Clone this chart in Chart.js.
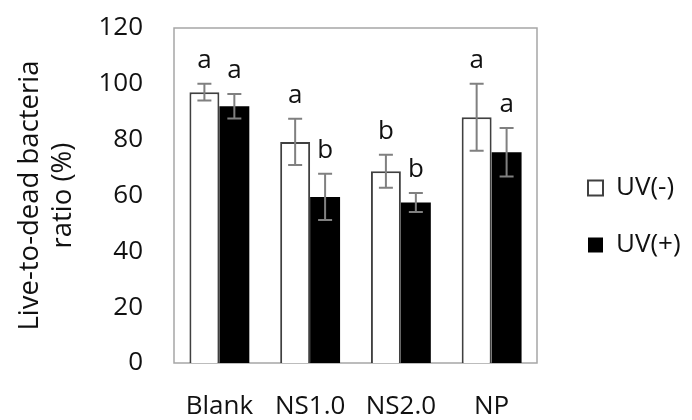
<!DOCTYPE html>
<html lang="en">
<head>
<meta charset="UTF-8">
<title>Live-to-dead bacteria ratio</title>
<script src="https://cdn.jsdelivr.net/npm/chart.js@4.4.1/dist/chart.umd.min.js"></script>
<style>
    body { margin: 0; background: #fff; }
    canvas { display: block; }
</style>
</head>
<body>
<canvas id="chart" width="692" height="420"></canvas>
<script>
const categories = ['Blank', 'NS1.0', 'NS2.0', 'NP'];
const seriesNames = ['UV(-)', 'UV(+)'];
const uvMinus = [97, 79.2, 68.7, 88];
const uvMinusErr = [3, 8.3, 5.9, 12];
const uvPlus = [92, 59.5, 57.5, 75.5];
const uvPlusErr = [4.4, 8.3, 3.4, 8.7];
const uvMinusLetters = ['a', 'a', 'b', 'a'];
const uvPlusLetters = ['a', 'b', 'b', 'a'];
const yTicks = [0, 20, 40, 60, 80, 100, 120];

const FONT = "'Open Sans', sans-serif";
const errors = [uvMinusErr, uvPlusErr];
const letters = [uvMinusLetters, uvPlusLetters];

// plot frame around the chart area
const framePlugin = {
    id: 'frame',
    beforeDatasetsDraw(chart) {
        const a = chart.chartArea;
        const ctx = chart.ctx;
        ctx.save();
        ctx.strokeStyle = '#a6a6a6';
        ctx.lineWidth = 1.5;
        ctx.strokeRect(a.left, a.top, a.right - a.left, a.bottom - a.top);
        ctx.restore();
    }
};

// error bars and significance letters
const errorPlugin = {
    id: 'errors',
    afterDatasetsDraw(chart) {
        const ctx = chart.ctx;
        const y = chart.scales.y;
        ctx.save();
        chart.data.datasets.forEach((ds, di) => {
            const meta = chart.getDatasetMeta(di);
            meta.data.forEach((bar, i) => {
                const v = ds.data[i];
                const e = errors[di][i];
                const top = y.getPixelForValue(v + e);
                const bot = y.getPixelForValue(v - e);
                const x = bar.x;
                ctx.strokeStyle = '#808080';
                ctx.lineWidth = 2;
                ctx.beginPath();
                ctx.moveTo(x, top);
                ctx.lineTo(x, bot);
                ctx.moveTo(x - 7, top);
                ctx.lineTo(x + 7, top);
                ctx.moveTo(x - 7, bot);
                ctx.lineTo(x + 7, bot);
                ctx.stroke();

                ctx.fillStyle = '#111';
                ctx.font = '26px ' + FONT;
                ctx.textAlign = 'center';
                ctx.textBaseline = 'alphabetic';
                ctx.fillText(letters[di][i], x, top - 16);
            });
        });
        ctx.restore();
    }
};

function draw() {
    Chart.defaults.font.family = FONT;
    Chart.defaults.color = '#111';

    new Chart(document.getElementById('chart'), {
        type: 'bar',
        data: {
            labels: categories,
            datasets: [{
                label: seriesNames[0],
                data: uvMinus,
                backgroundColor: '#ffffff',
                borderColor: '#404040',
                borderWidth: 2,
                barPercentage: 1,
                categoryPercentage: 0.66
            }, {
                label: seriesNames[1],
                data: uvPlus,
                backgroundColor: '#000000',
                borderColor: '#000000',
                borderWidth: 0,
                barPercentage: 1,
                categoryPercentage: 0.66
            }]
        },
        options: {
            responsive: false,
            animation: false,
            layout: {
                padding: { top: 13, bottom: 0, left: 11, right: 2 }
            },
            plugins: {
                tooltip: { enabled: false },
                legend: {
                    position: 'right',
                    maxWidth: 133,
                    labels: {
                        font: { size: 26 },
                        boxWidth: 15,
                        boxHeight: 15,
                        padding: 31,
                        color: '#111'
                    }
                }
            },
            scales: {
                x: {
                    grid: { display: false, drawTicks: false },
                    border: { display: false },
                    ticks: {
                        font: { size: 26 },
                        padding: 27.5,
                        color: '#111'
                    },
                    afterFit(scale) {
                        scale.height = 57;
                    }
                },
                y: {
                    min: 0,
                    max: 120,
                    grid: { display: false, drawTicks: false },
                    border: { display: false },
                    afterBuildTicks(scale) {
                        scale.ticks = yTicks.map(v => ({ value: v }));
                    },
                    ticks: {
                        font: { size: 26 },
                        padding: 31,
                        color: '#111'
                    },
                    title: {
                        display: true,
                        text: ['Live-to-dead bacteria', 'ratio (%)'],
                        font: { size: 27.5 },
                        padding: { top: 3, bottom: 4 },
                        color: '#111'
                    },
                    afterFit(scale) {
                        scale.width = 163;
                        scale.paddingTop = 28;
                        scale.paddingBottom = 0;
                    }
                },
                gap: {
                    type: 'linear',
                    position: 'right',
                    grid: { display: false, drawTicks: false },
                    border: { display: false },
                    ticks: { display: false },
                    afterFit(scale) {
                        scale.width = 20;
                    }
                }
            }
        },
        plugins: [framePlugin, errorPlugin]
    });
}

document.fonts.load('26px "Open Sans"').then(draw, draw);
</script>
</body>
</html>
